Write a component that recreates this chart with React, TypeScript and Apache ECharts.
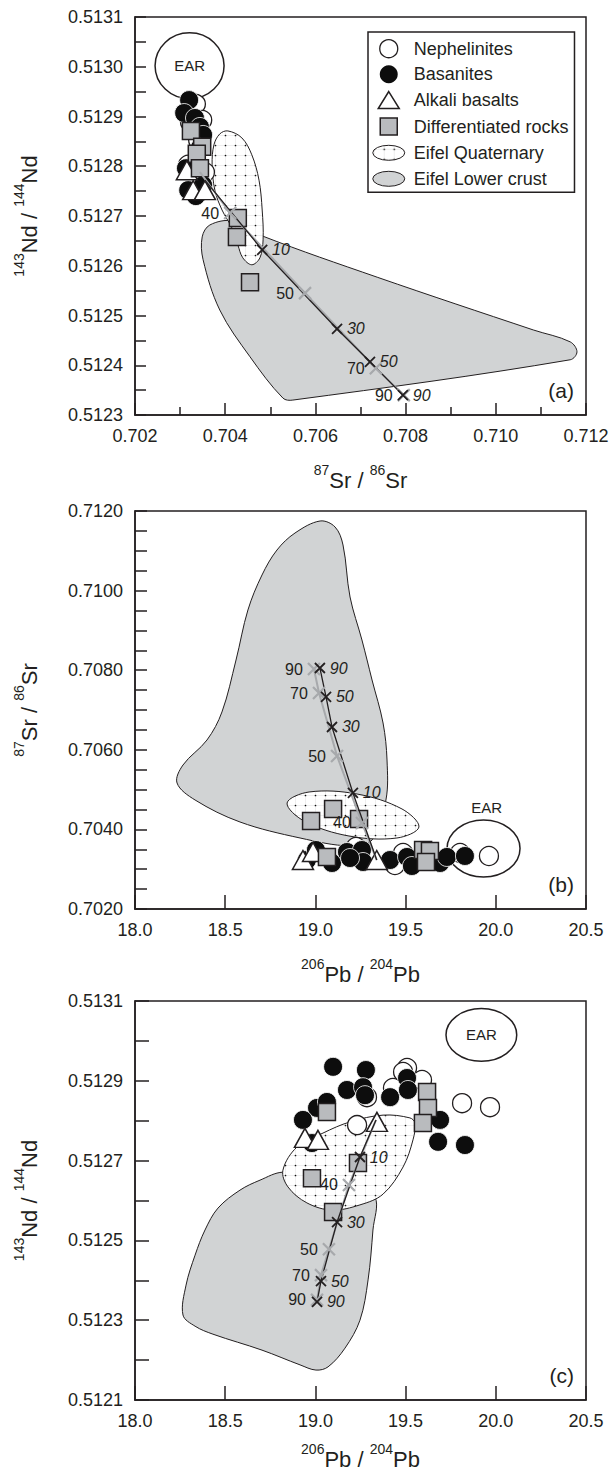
import React, { useEffect, useRef } from 'react';
import * as echarts from 'echarts';

const FONT = "'Liberation Sans', Arial, Helvetica, sans-serif";
const INK = '#231f20';
const CRUST = '#d1d3d4';
const SQUARE = '#b9bbbe';
const MIX_GRAY = '#a7a9ac';

// ---------------- Panel (a): 143Nd/144Nd vs 87Sr/86Sr ----------------
const aNephelinites = [[0.70335, 0.512925], [0.70322, 0.512889], [0.7034, 0.512853], [0.70318, 0.512803], [0.70355, 0.512788], [0.70349, 0.512893]];
const aBasanites = [[0.7032, 0.512933], [0.70309, 0.512907], [0.70333, 0.512897], [0.70344, 0.512879], [0.70351, 0.512863], [0.70344, 0.512837], [0.70313, 0.512796], [0.70318, 0.512752], [0.70335, 0.51274], [0.70351, 0.512762]];
const aAlkali = [[0.70315, 0.512792], [0.70329, 0.512752], [0.70355, 0.512752]];
const aDifferentiated = [[0.70324, 0.512871], [0.70349, 0.512839], [0.70337, 0.512825], [0.70344, 0.512796], [0.70428, 0.512696], [0.70426, 0.512658], [0.70455, 0.512567]];
const aQuaternary = [[0.70406, 0.512871], [0.70437, 0.512857], [0.70459, 0.512823], [0.70475, 0.512772], [0.70482, 0.512712], [0.70484, 0.512652], [0.70477, 0.512616], [0.70459, 0.512602], [0.70439, 0.512616], [0.70428, 0.512642], [0.70415, 0.512676], [0.70393, 0.512712], [0.70377, 0.512752], [0.70371, 0.512803], [0.70375, 0.512843], [0.70388, 0.512865]];
const aLowerCrust = [[0.70366, 0.512682], [0.70417, 0.51269], [0.70482, 0.51266], [0.70737, 0.512577], [0.71083, 0.512471], [0.71165, 0.512447], [0.7118, 0.512427], [0.71165, 0.512411], [0.7055, 0.51233], [0.70528, 0.512334], [0.70455, 0.512417], [0.70388, 0.512511], [0.70351, 0.512612], [0.70349, 0.512658]];
// EAR field: centre x, centre y, radius x, radius y, label x, label y
const aEAR = [0.70321, 0.513002, 0.000765, 0.0000663, 0.70321, 0.513002];
const aRefNd = 0.512682;
const aRefSr = 0.70453;
const aMixBlack = [[0.70355, 0.512772, ''], [0.70482, 0.512632, '10'], [0.70648, 0.512473, '30'], [0.70721, 0.512407, '50'], [0.70794, 0.51234, '90']];
const aMixGray = [[0.70344, 0.512788, ''], [0.70411, 0.512706, '40'], [0.70577, 0.512545, '50'], [0.70734, 0.512394, '70'], [0.70796, 0.51234, '90']];

// ---------------- Panel (b): 87Sr/86Sr vs 206Pb/204Pb ----------------
const bNephelinites = [[19.802, 0.703407], [19.962, 0.703332], [19.225, 0.703558], [19.486, 0.703407], [19.441, 0.703106]];
const bBasanites = [[18.953, 0.703231], [19.003, 0.703482], [19.092, 0.703156], [19.175, 0.703432], [19.258, 0.703482], [19.264, 0.703181], [19.192, 0.703281], [19.414, 0.703231], [19.508, 0.703307], [19.535, 0.70308], [19.691, 0.703156], [19.729, 0.703307], [19.829, 0.703332]];
const bAlkali = [[18.931, 0.703231], [18.987, 0.703432], [19.34, 0.703231]];
const bDifferentiated = [[18.976, 0.704211], [19.098, 0.704513], [19.242, 0.704261], [19.064, 0.703307], [19.597, 0.703482], [19.635, 0.703457], [19.613, 0.703181]];
const bQuaternary = [[19.574, 0.70406], [19.452, 0.703784], [19.186, 0.703834], [18.937, 0.704211], [18.843, 0.704663], [18.965, 0.70494], [19.231, 0.704889], [19.48, 0.704513]];
const bLowerCrust = [[19.026, 0.711749], [19.109, 0.711598], [19.153, 0.711146], [19.192, 0.709839], [19.258, 0.708759], [19.314, 0.707754], [19.375, 0.706673], [19.397, 0.705744], [19.391, 0.704739], [19.314, 0.703734], [19.192, 0.703583], [18.915, 0.703784], [18.582, 0.704186], [18.333, 0.704739], [18.233, 0.705166], [18.266, 0.705618], [18.399, 0.706246], [18.482, 0.70695], [18.56, 0.708256], [18.626, 0.709513], [18.704, 0.710392], [18.787, 0.71102], [18.887, 0.711447]];
const bEAR = [19.932, 0.70352, 0.2023, 0.000716, 19.95, 0.704538];
const bMixBlack = [[19.34, 0.703231, ''], [19.208, 0.704915, '10'], [19.092, 0.706573, '30'], [19.059, 0.707327, '50'], [19.025, 0.708055, '90']];
const bMixGray = [[19.34, 0.703231, ''], [19.258, 0.704161, '40'], [19.12, 0.705844, '50'], [19.02, 0.707427, '70'], [18.992, 0.70803, '90']];

// ---------------- Panel (c): 143Nd/144Nd vs 206Pb/204Pb ----------------
const cNephelinites = [[19.508, 0.512932], [19.591, 0.512902], [19.43, 0.512882], [19.286, 0.512859], [19.231, 0.512789], [19.813, 0.512844], [19.968, 0.512834], [19.486, 0.512922]];
const cBasanites = [[19.098, 0.512935], [19.28, 0.512927], [19.175, 0.512877], [19.264, 0.512884], [19.275, 0.512864], [19.414, 0.512859], [19.508, 0.512907], [19.513, 0.512877], [19.009, 0.512832], [19.064, 0.512847], [18.931, 0.512802], [19.691, 0.512802], [19.68, 0.512747], [19.829, 0.512739], [18.981, 0.512744]];
const cAlkali = [[18.942, 0.512757], [19.014, 0.512752], [19.341, 0.512797]];
const cDifferentiated = [[19.064, 0.512822], [19.619, 0.512872], [19.624, 0.512832], [19.596, 0.512794], [19.236, 0.512694], [18.981, 0.512656], [19.098, 0.512571]];
const cQuaternary = [[19.524, 0.512807], [19.375, 0.512814], [19.192, 0.512797], [19.042, 0.512769], [18.898, 0.512734], [18.82, 0.512676], [18.848, 0.512634], [18.953, 0.512594], [19.092, 0.512576], [19.247, 0.512589], [19.375, 0.512616], [19.486, 0.512684], [19.541, 0.512752], [19.552, 0.512794]];
const cLowerCrust = [[18.82, 0.512671], [18.693, 0.512651], [18.582, 0.512626], [18.46, 0.512581], [18.388, 0.512526], [18.333, 0.512463], [18.283, 0.512388], [18.266, 0.512313], [18.333, 0.512285], [18.432, 0.512265], [18.704, 0.512225], [18.915, 0.512188], [19.003, 0.512175], [19.07, 0.512183], [19.164, 0.51223], [19.247, 0.5123], [19.292, 0.512401], [19.319, 0.512526], [19.33, 0.512609], [19.192, 0.512639], [18.97, 0.512656]];
const cEAR = [19.92, 0.513015, 0.196, 0.000066, 19.92, 0.513015];
const cMixBlack = [[19.336, 0.512802, ''], [19.247, 0.512709, '10'], [19.12, 0.512546, '30'], [19.031, 0.512398, '50'], [19.009, 0.512346, '90']];
const cMixGray = [[19.336, 0.512802, ''], [19.186, 0.512639, '40'], [19.075, 0.512478, '50'], [19.031, 0.512413, '70'], [19.009, 0.512351, '90']];

// ---------------- Axes ----------------
const ND_NAME = '{s|143}{b|Nd / }{s|144}{b|Nd}';
const SR_NAME = '{s|87}{b|Sr / }{s|86}{b|Sr}';
const PB_NAME = '{s|206}{b|Pb / }{s|204}{b|Pb}';

const xMin = [0.702, 18, 18];
const xMax = [0.712, 20.5, 20.5];
const xStep = [0.002, 0.5, 0.5];
const xMinorSplit = [2, 0, 0];
const xDecimals = [3, 1, 1];
const xNames = [SR_NAME, PB_NAME, PB_NAME];
const yMin = [0.5123, 0.702, 0.5121];
const yMax = [0.5131, 0.712, 0.5131];
const yStep = [0.0001, 0.002, 0.0002];
const yMinorSplit = [2, 4, 2];
const yNames = [ND_NAME, SR_NAME, ND_NAME];
const panelLetters = ['(a)', '(b)', '(c)'];

const GRID_TOP = [17, 511, 1001];
const GRID_H = [398, 398, 399];
const X_TICK = [12, 14, 14];
const X_MINOR_TICK = [8, 0, 0];
const Y_TICK = [11, 12, 14];
const X_NAME_GAP = [48, 48, 42];

const CROSS = 'path://M0,0L10,10M0,10L10,0';
const ICON_SQUARE = 'path://M0,0M40,18M11.5,0.5L28.5,0.5L28.5,17.5L11.5,17.5Z';
const ICON_TRIANGLE = 'path://M0,0M40,18M20,0.5L30.5,17.5L9.5,17.5Z';
const ICON_ELLIPSE = 'path://M0,0M40,18M4,9A16,7.5 0 1 1 36,9A16,7.5 0 1 1 4,9Z';

const RICH = {
  b: { fontSize: 22, fontFamily: FONT, color: INK, lineHeight: 28, verticalAlign: 'bottom' },
  s: { fontSize: 14, fontFamily: FONT, color: INK, verticalAlign: 'top' },
};

function makeDotPattern() {
  const c = document.createElement('canvas');
  c.width = 10;
  c.height = 10;
  const g = c.getContext('2d');
  if (g) {
    g.fillStyle = '#ffffff';
    g.fillRect(0, 0, 10, 10);
    g.strokeStyle = '#e2e2e2';
    g.lineWidth = 0.6;
    g.beginPath();
    g.moveTo(0, 5.5);
    g.lineTo(10, 5.5);
    g.moveTo(5.5, 0);
    g.lineTo(5.5, 10);
    g.stroke();
    g.fillStyle = '#111111';
    g.beginPath();
    g.arc(5.5, 5.5, 0.85, 0, Math.PI * 2);
    g.fill();
  }
  return { image: c.toDataURL(), repeat: 'repeat', imageWidth: 10, imageHeight: 10 };
}

function polySeries(name: string, pts: number[][], idx: number, fill: any, z: number) {
  return {
    type: 'custom',
    name,
    xAxisIndex: idx,
    yAxisIndex: idx,
    z,
    silent: true,
    data: pts,
    renderItem: (params: any, api: any) => {
      if (params.dataIndex !== 0) return null;
      return {
        type: 'polygon',
        shape: { points: pts.map((p) => api.coord(p)), smooth: 0.35 },
        style: { fill, stroke: INK, lineWidth: 1 },
      };
    },
  };
}

function earSeries(v: number[], idx: number) {
  return {
    type: 'custom',
    name: 'EAR',
    xAxisIndex: idx,
    yAxisIndex: idx,
    z: 3,
    silent: true,
    data: [v],
    renderItem: (params: any, api: any) => {
      const c = api.coord([api.value(0), api.value(1)]);
      const s = api.size([api.value(2), api.value(3)]);
      const l = api.coord([api.value(4), api.value(5)]);
      return {
        type: 'group',
        children: [
          { type: 'ellipse', shape: { cx: c[0], cy: c[1], rx: s[0], ry: s[1] }, style: { fill: '#fff', stroke: INK, lineWidth: 1.5 } },
          { type: 'text', x: l[0], y: l[1], style: { text: 'EAR', fill: INK, fontSize: 15, fontFamily: FONT, align: 'center', verticalAlign: 'middle' } },
        ],
      };
    },
  };
}

const SCATTER_STYLE: any = {
  Nephelinites: { symbol: 'circle', symbolSize: 19, itemStyle: { color: '#fff', borderColor: INK, borderWidth: 1.3, opacity: 1 } },
  Basanites: { symbol: 'circle', symbolSize: 19, itemStyle: { color: '#0d0d0d', borderColor: '#fff', borderWidth: 0.8, opacity: 1 } },
  'Alkali basalts': { symbol: 'triangle', symbolSize: [21, 19], itemStyle: { color: '#fff', borderColor: INK, borderWidth: 1.5, opacity: 1 } },
  'Differentiated rocks': { symbol: 'rect', symbolSize: 17, itemStyle: { color: SQUARE, borderColor: INK, borderWidth: 1.5, opacity: 1 } },
};

function scatterSeries(name: string, data: number[][], idx: number) {
  return {
    type: 'scatter',
    name,
    xAxisIndex: idx,
    yAxisIndex: idx,
    z: 4,
    silent: true,
    data,
    ...SCATTER_STYLE[name],
  };
}

function mixSeries(pts: any[][], idx: number, gray: boolean) {
  const col = gray ? MIX_GRAY : INK;
  return {
    type: 'line',
    name: gray ? 'mix-gray' : 'mix-black',
    xAxisIndex: idx,
    yAxisIndex: idx,
    z: 6,
    silent: true,
    lineStyle: { color: col, width: gray ? 2 : 1.3 },
    itemStyle: { color: col, borderColor: col, borderWidth: gray ? 2.2 : 1.8, opacity: 1 },
    symbolSize: gray ? 12 : 10,
    data: pts.map((p) => ({
      value: [p[0], p[1]],
      symbol: p[2] ? CROSS : 'none',
      label: {
        show: !!p[2],
        formatter: String(p[2]),
        position: gray ? 'left' : 'right',
        distance: 4,
        fontSize: 16,
        fontFamily: FONT,
        fontStyle: gray ? 'normal' : 'italic',
        color: INK,
      },
    })),
  };
}

function buildOption() {
  const dots = makeDotPattern();
  const sets = [
    { n: aNephelinites, b: aBasanites, t: aAlkali, d: aDifferentiated, q: aQuaternary, c: aLowerCrust, e: aEAR, mb: aMixBlack, mg: aMixGray },
    { n: bNephelinites, b: bBasanites, t: bAlkali, d: bDifferentiated, q: bQuaternary, c: bLowerCrust, e: bEAR, mb: bMixBlack, mg: bMixGray },
    { n: cNephelinites, b: cBasanites, t: cAlkali, d: cDifferentiated, q: cQuaternary, c: cLowerCrust, e: cEAR, mb: cMixBlack, mg: cMixGray },
  ];
  const series: any[] = [];
  series.push({
    type: 'scatter',
    name: 'reference lines',
    xAxisIndex: 0,
    yAxisIndex: 0,
    data: [],
    silent: true,
    markLine: {
      silent: true,
      z: 1,
      symbol: 'none',
      label: { show: false },
      lineStyle: { color: INK, width: 1.5, type: 'solid' },
      data: [{ yAxis: aRefNd }, { xAxis: aRefSr }],
    },
  });
  sets.forEach((s, i) => {
    series.push(polySeries('Eifel Lower crust', s.c, i, CRUST, 2));
    series.push(polySeries('Eifel Quaternary', s.q, i, dots, 3));
    series.push(earSeries(s.e, i));
    series.push(scatterSeries('Nephelinites', s.n, i));
    series.push(scatterSeries('Basanites', s.b, i));
    series.push(scatterSeries('Alkali basalts', s.t, i));
    series.push(scatterSeries('Differentiated rocks', s.d, i));
    series.push(mixSeries(s.mg, i, true));
    series.push(mixSeries(s.mb, i, false));
  });

  return {
    animation: false,
    backgroundColor: '#fff',
    textStyle: { fontFamily: FONT, color: INK },
    grid: [0, 1, 2].map((i) => ({
      left: 135,
      top: GRID_TOP[i],
      width: 451,
      height: GRID_H[i],
      show: true,
      borderColor: INK,
      borderWidth: 1.5,
      backgroundColor: 'transparent',
      containLabel: false,
      outerBoundsMode: 'none',
    })),
    xAxis: [0, 1, 2].map((i) => ({
      type: 'value',
      gridIndex: i,
      min: xMin[i],
      max: xMax[i],
      interval: xStep[i],
      axisLine: { show: true, onZero: false, lineStyle: { color: INK, width: 1.5 } },
      axisTick: { show: true, inside: true, length: X_TICK[i], lineStyle: { color: INK, width: 1.5 } },
      minorTick: { show: xMinorSplit[i] > 0, splitNumber: xMinorSplit[i] || 5, length: X_MINOR_TICK[i], lineStyle: { color: INK, width: 1.5 } },
      axisLabel: { fontSize: 18, color: INK, fontFamily: FONT, margin: 12, showMinLabel: true, showMaxLabel: true, formatter: (v: number) => v.toFixed(xDecimals[i]) },
      splitLine: { show: false },
      minorSplitLine: { show: false },
      name: xNames[i],
      nameLocation: 'middle',
      nameGap: X_NAME_GAP[i],
      nameTextStyle: { fontFamily: FONT, color: INK, rich: RICH },
    })),
    yAxis: [0, 1, 2].map((i) => ({
      type: 'value',
      gridIndex: i,
      min: yMin[i],
      max: yMax[i],
      interval: yStep[i],
      axisLine: { show: true, onZero: false, lineStyle: { color: INK, width: 1.5 } },
      axisTick: { show: true, inside: true, length: Y_TICK[i], lineStyle: { color: INK, width: 1.5 } },
      minorTick: { show: true, splitNumber: yMinorSplit[i], length: Y_TICK[i], lineStyle: { color: INK, width: 1.5 } },
      axisLabel: { fontSize: 18, color: INK, fontFamily: FONT, margin: 12, showMinLabel: true, showMaxLabel: true, formatter: (v: number) => v.toFixed(4) },
      splitLine: { show: false },
      minorSplitLine: { show: false },
      name: yNames[i],
      nameLocation: 'middle',
      nameRotate: 90,
      nameGap: 95,
      nameTextStyle: { fontFamily: FONT, color: INK, rich: RICH },
    })),
    legend: {
      orient: 'vertical',
      left: 368,
      top: 32,
      padding: [7, 6, 4, 0],
      itemGap: 7,
      itemWidth: 40,
      itemHeight: 18,
      selectedMode: false,
      backgroundColor: '#fff',
      borderColor: INK,
      borderWidth: 1.5,
      borderRadius: 0,
      z: 10,
      textStyle: { fontSize: 18, color: INK, fontFamily: FONT },
      data: [
        { name: 'Nephelinites', icon: 'circle', itemStyle: { color: '#fff', borderColor: INK, borderWidth: 1.3, opacity: 1 } },
        { name: 'Basanites', icon: 'circle', itemStyle: { color: '#0d0d0d', borderColor: '#0d0d0d', borderWidth: 0, opacity: 1 } },
        { name: 'Alkali basalts', icon: ICON_TRIANGLE, itemStyle: { color: '#fff', borderColor: INK, borderWidth: 1.5, opacity: 1 } },
        { name: 'Differentiated rocks', icon: ICON_SQUARE, itemStyle: { color: SQUARE, borderColor: INK, borderWidth: 1.5, opacity: 1 } },
        { name: 'Eifel Quaternary', icon: ICON_ELLIPSE, itemStyle: { color: dots, borderColor: INK, borderWidth: 1, opacity: 1 } },
        { name: 'Eifel Lower crust', icon: ICON_ELLIPSE, itemStyle: { color: CRUST, borderColor: INK, borderWidth: 1, opacity: 1 } },
      ],
    },
    graphic: [0, 1, 2].map((i) => ({
      type: 'text',
      x: 574,
      y: GRID_TOP[i] + GRID_H[i] - 25,
      z: 10,
      style: { text: panelLetters[i], fontSize: 21, fontFamily: FONT, fill: INK, align: 'right', verticalAlign: 'middle' },
    })),
    series,
  };
}

export default function App() {
  const ref = useRef<HTMLDivElement>(null);
  useEffect(() => {
    document.body.style.margin = '0';
    if (!ref.current) return;
    const chart = echarts.init(ref.current, null, { renderer: 'svg' });
    chart.setOption(buildOption() as any);
    return () => chart.dispose();
  }, []);
  return <div ref={ref} style={{ width: 611, height: 1473 }} />;
}
